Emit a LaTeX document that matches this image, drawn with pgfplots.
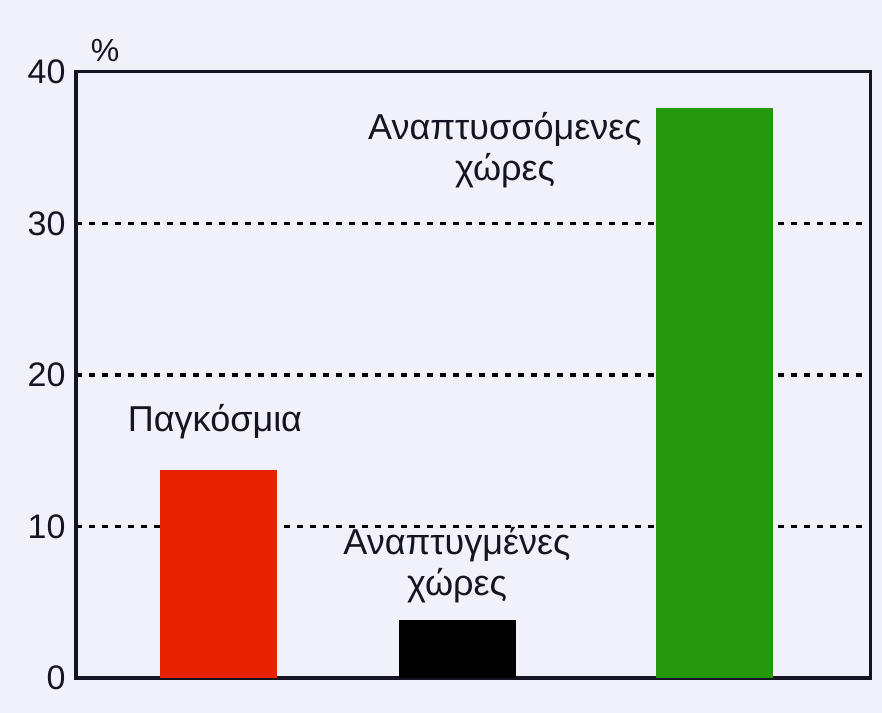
\documentclass[border=0pt]{standalone}
\usepackage{pgfplots}
\pgfplotsset{compat=1.18}
\usepackage{fontspec}
\setmainfont{Liberation Sans}

\definecolor{pagebg}{RGB}{241,241,249}
\definecolor{barred}{RGB}{230,34,0}
\definecolor{bargreen}{RGB}{38,152,14}
\definecolor{axisink}{RGB}{20,20,35}

\begin{document}
\begin{tikzpicture}
  % page background, fixes the picture size to the reference's
  \fill[pagebg] (-76bp,-35bp) rectangle (806bp,678bp);
  \begin{axis}[
      at={(0,0)}, anchor=south west,
      scale only axis, width=794bp, height=606bp,
      xmin=0, xmax=794, ymin=0, ymax=40,
      ytick={0,10,20,30,40}, xtick=\empty,
      minor ytick={10,20,30}, yminorgrids,
      minor grid style={black, line width=3.2bp, dash pattern=on 6bp off 7bp},
      axis line style={axisink, line width=3bp},
      major tick length=0pt, minor tick length=0pt,
      /pgf/number format/assume math mode=true,
      yticklabel style={font=\fontsize{34bp}{38bp}\selectfont, color=axisink, xshift=-7bp},
      clip=false,
      ybar, bar width=117,
    ]
    \addplot[fill=barred, draw=none, bar shift=0pt] coordinates {(142,13.7)};
    \addplot[fill=black, draw=none, bar shift=0pt] coordinates {(381,3.8)};
    \addplot[fill=bargreen, draw=none, bar shift=0pt] coordinates {(638,37.6)};

    \node[font=\fontsize{32bp}{36bp}\selectfont, color=axisink] at (axis cs:29,41.4) {\%};
    \node[font=\fontsize{36bp}{41bp}\selectfont, color=axisink, align=center]
      at (axis cs:139,16.9) {Παγκόσμια};
    \node[font=\fontsize{36bp}{41bp}\selectfont, color=axisink, align=center]
      at (axis cs:381,7.45) {Αναπτυγμένες\\χώρες};
    \node[font=\fontsize{36bp}{41bp}\selectfont, color=axisink, align=center]
      at (axis cs:429,34.85) {Αναπτυσσόμενες\\χώρες};
  \end{axis}
\end{tikzpicture}
\end{document}
